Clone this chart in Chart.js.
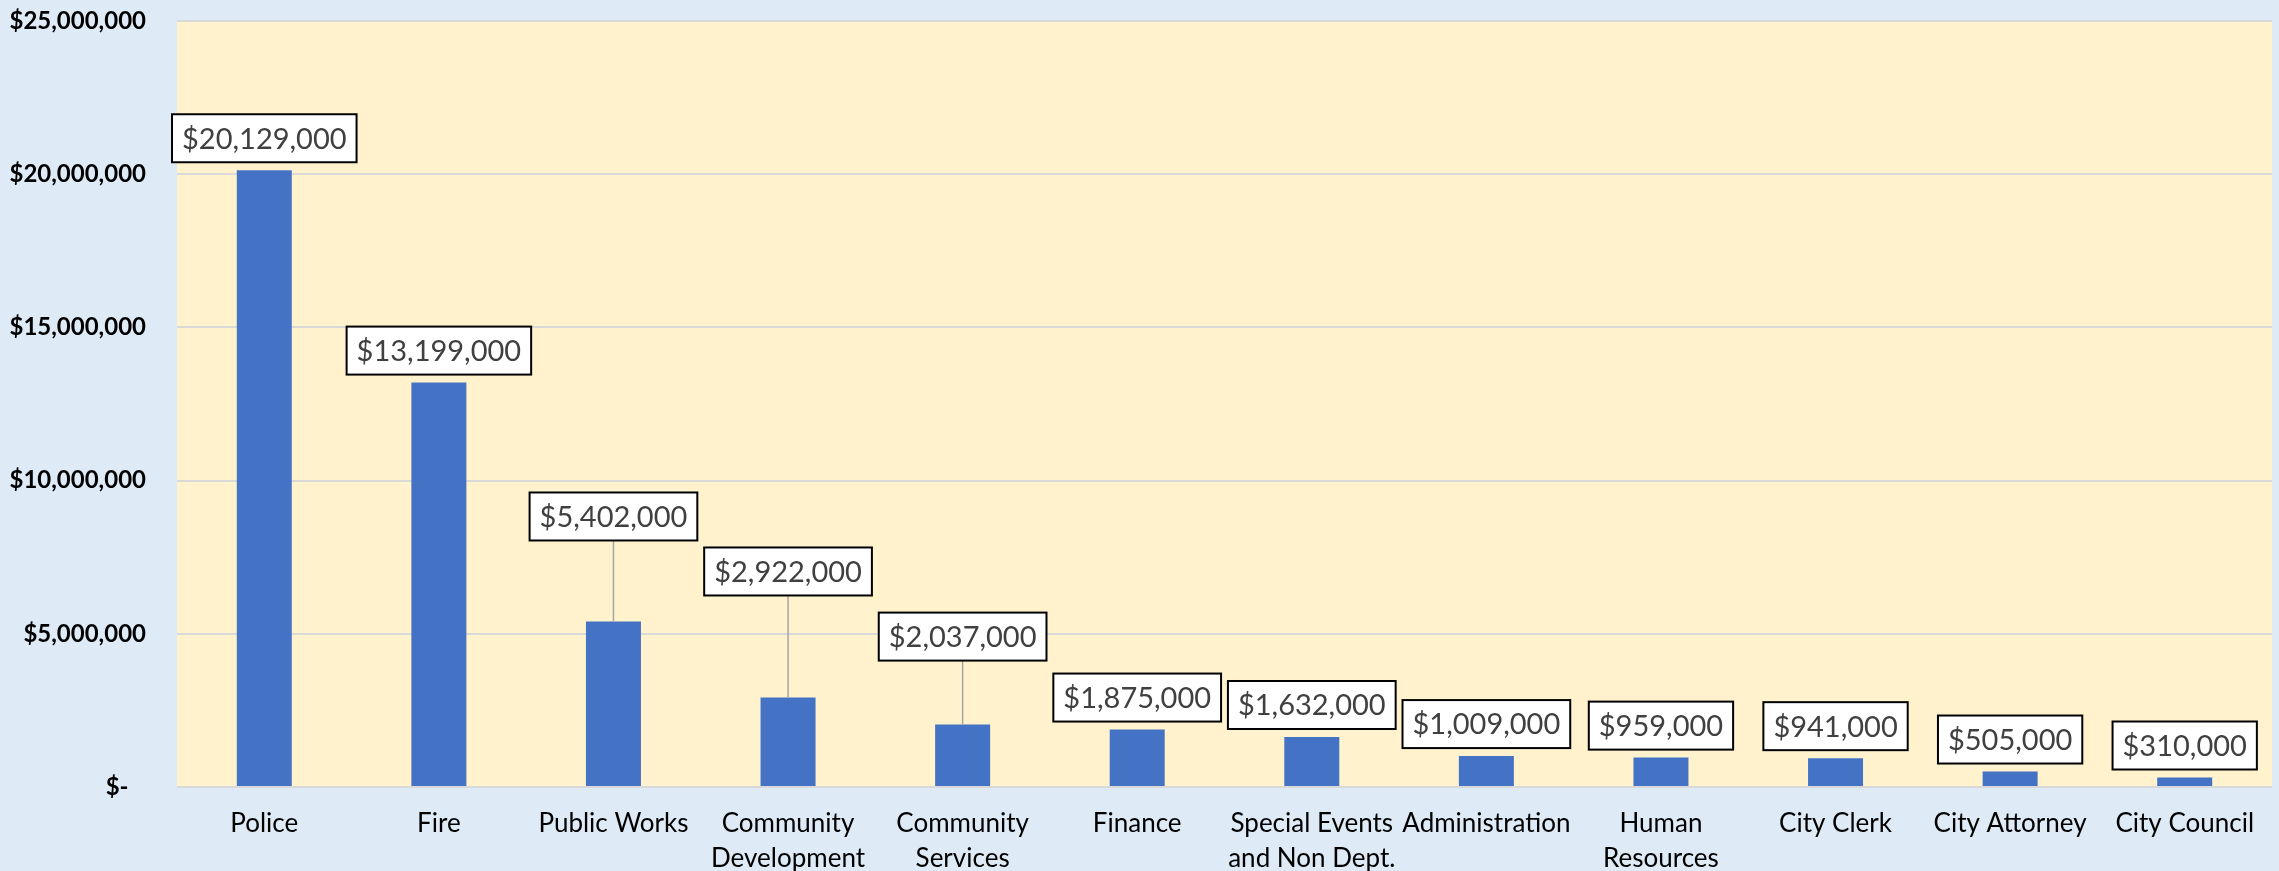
<!DOCTYPE html>
<html>
<head>
<meta charset="utf-8">
<script src="https://cdn.jsdelivr.net/npm/chart.js@4/dist/chart.umd.min.js"></script>
<style>
  html, body { margin: 0; padding: 0; background: #DEEBF7; }
  #wrap { width: 2279px; height: 871px; position: relative; }
</style>
</head>
<body>
<div id="wrap"><canvas id="budgetChart"></canvas></div>
<script>
// Departments (multi-line labels as shown under the axis)
const departments = [
    'Police',
    'Fire',
    'Public Works',
    ['Community', 'Development'],
    ['Community', 'Services'],
    'Finance',
    ['Special Events', 'and Non Dept.'],
    'Administration',
    ['Human', 'Resources'],
    'City Clerk',
    'City Attorney',
    'City Council'
];

const budget = [20129000, 13199000, 5402000, 2922000, 2037000, 1875000, 1632000, 1009000, 959000, 941000, 505000, 310000];

const yTicks = [0, 5000000, 10000000, 15000000, 20000000, 25000000];

const formatDollar = (num) => '$' + Math.round(num).toLocaleString('en-US');

// Paint the plot area yellow
const plotBackground = {
    id: 'plotBackground',
    beforeDraw(chart) {
        const { ctx, chartArea } = chart;
        ctx.save();
        ctx.fillStyle = '#FFF2CC';
        ctx.fillRect(chartArea.left, chartArea.top, chartArea.right - chartArea.left, chartArea.bottom - chartArea.top);
        ctx.restore();
    }
};

// Boxed value labels, some lifted with a leader line
const valueLabels = {
    id: 'valueLabels',
    afterDatasetsDraw(chart, args, opts) {
        const ctx = chart.ctx;
        const meta = chart.getDatasetMeta(0);
        ctx.save();
        ctx.font = opts.font;
        ctx.textAlign = 'center';
        ctx.textBaseline = 'middle';
        meta.data.forEach((bar, i) => {
            const text = formatDollar(budget[i]);
            const w = ctx.measureText(text).width + opts.padX * 2;
            const h = opts.boxHeight;
            const extra = opts.lift[i] || 0;
            const bottom = bar.y - opts.gap - extra;
            const top = bottom - h;
            const left = bar.x - w / 2;

            if (extra) {
                ctx.strokeStyle = '#A6A6A6';
                ctx.lineWidth = 1.5;
                ctx.beginPath();
                ctx.moveTo(bar.x, bottom);
                ctx.lineTo(bar.x, bar.y);
                ctx.stroke();
            }

            ctx.fillStyle = '#FFFFFF';
            ctx.fillRect(left, top, w, h);
            ctx.strokeStyle = '#000000';
            ctx.lineWidth = 2;
            ctx.strokeRect(left, top, w, h);

            ctx.fillStyle = '#404040';
            ctx.fillText(text, bar.x, top + h / 2 + 1);
        });
        ctx.restore();
    }
};

function initChart() {
    const ctx = document.getElementById('budgetChart').getContext('2d');

    const config = {
        type: 'bar',
        data: {
            labels: departments,
            datasets: [{
                data: budget,
                backgroundColor: '#4472C4',
                borderWidth: 0,
                categoryPercentage: 1,
                barPercentage: 0.315
            }]
        },
        options: {
            responsive: true,
            maintainAspectRatio: false,
            animation: false,
            layout: {
                padding: { top: 21, right: 7, bottom: 0, left: 0 }
            },
            plugins: {
                legend: { display: false },
                tooltip: { enabled: false },
                valueLabels: {
                    font: '29px Lato, "Liberation Sans", sans-serif',
                    padX: 10,
                    boxHeight: 48,
                    gap: 8,
                    lift: { 2: 73, 3: 94, 4: 56 }
                }
            },
            scales: {
                x: {
                    grid: { display: false, drawTicks: false },
                    border: { display: false },
                    ticks: {
                        autoSkip: false,
                        maxRotation: 0,
                        minRotation: 0,
                        padding: 19,
                        color: '#000000',
                        font: { family: 'Lato, "Liberation Sans", sans-serif', size: 26, lineHeight: 1.34 }
                    },
                    afterFit(scale) { scale.height = 84; }
                },
                y: {
                    min: 0,
                    max: 25000000,
                    afterBuildTicks(scale) {
                        scale.ticks = yTicks.map(v => ({ value: v }));
                    },
                    grid: { color: '#D9D9D9', lineWidth: 2, drawTicks: false },
                    border: { display: false },
                    ticks: {
                        padding: 31,
                        color: '#000000',
                        font: { family: 'Lato, "Liberation Sans", sans-serif', size: 24, weight: 'bold' },
                        callback: (v) => v === 0 ? '$-   ' : formatDollar(v)
                    },
                    afterFit(scale) {
                        scale.width = 177;
                        // tick padding would otherwise push the plot top down
                        scale.paddingTop = 0;
                        scale.paddingBottom = 0;
                    }
                }
            }
        },
        plugins: [plotBackground, valueLabels]
    };

    new Chart(ctx, config);
}

document.addEventListener('DOMContentLoaded', initChart);
</script>
</body>
</html>
